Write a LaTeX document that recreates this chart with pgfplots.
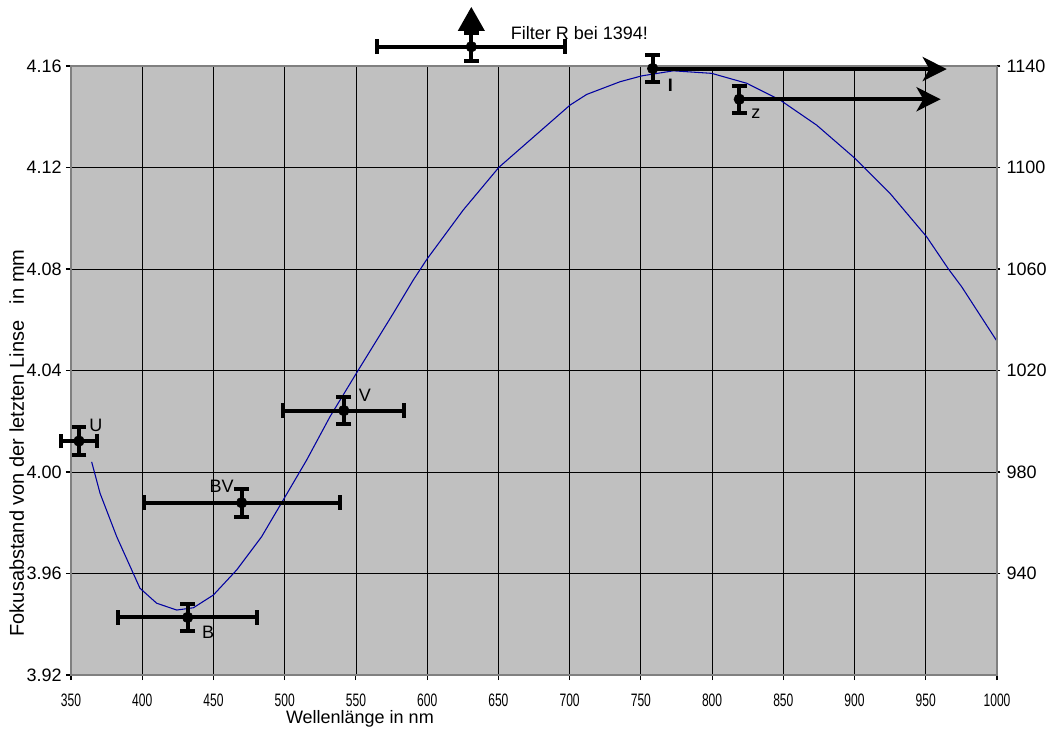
\documentclass[border=0pt]{standalone}
\usepackage{fontspec}
\setmainfont{Liberation Sans}
\usepackage{pgfplots}
\pgfplotsset{compat=1.18}
\usetikzlibrary{arrows.meta,calc}
\definecolor{bg}{RGB}{192,192,192}
\definecolor{brd}{RGB}{128,128,128}
\definecolor{curvec}{RGB}{0,0,160}
\newcommand{\xt}[1]{\scalebox{0.67}[1]{#1}}

\pgfplotstableread{
x y ex ey
355.6 4.0122 12.3 0.0055
431.9 3.9427 48.9 0.0054
469.8 3.9879 68.7 0.0055
541.5 4.0242 42.5 0.0053
631.0 4.1676 66.0 0.0055
}\ptsA

\pgfplotstableread{
x y ey
758.3 4.1590 0.0054
819.1 4.1469 0.0053
}\ptsB

\pgfplotstableread{
x y
364.5 4.0040
370.4 3.9916
382.1 3.9745
398.4 3.9542
410.1 3.9483
424.2 3.9456
435.9 3.9465
449.9 3.9515
466.3 3.9614
483.8 3.9745
499.0 3.9890
515.4 4.0047
531.8 4.0218
551.7 4.0402
576.2 4.0625
590.3 4.0757
600.0 4.0840
625.4 4.1033
650.4 4.1201
672.2 4.1308
700.3 4.1446
712.0 4.1488
735.4 4.1538
750.6 4.1561
772.8 4.1581
799.7 4.1571
824.3 4.1532
847.7 4.1466
873.4 4.1367
900.3 4.1236
924.9 4.1098
950.6 4.0927
965.9 4.0800
975.2 4.0730
1000.0 4.0515
}\curve

\begin{document}
\fontsize{13.5}{16}\selectfont
\begin{tikzpicture}
\begin{axis}[name=ax, scale only axis, width=694.5pt, height=456.75pt,
  xmin=350, xmax=1000, ymin=3.92, ymax=4.16,
  xtick={350,400,450,500,550,600,650,700,750,800,850,900,950,1000},
  xticklabels={\xt{350},\xt{400},\xt{450},\xt{500},\xt{550},\xt{600},\xt{650},\xt{700},\xt{750},\xt{800},\xt{850},\xt{900},\xt{950},\xt{1000}},
  ytick={3.92,3.96,4.00,4.04,4.08,4.12,4.16},
  yticklabel style={/pgf/number format/fixed, /pgf/number format/fixed zerofill, /pgf/number format/precision=2, /pgf/number format/assume math mode=true, xshift=1.5pt},
  xticklabel style={yshift=-6pt},
  tick pos=left, tick align=outside, major tick length=3.75pt,
  tick style={black, line width=0.8pt},
  grid=major, major grid style={black, line width=0.6pt},
  axis line style={brd, line width=1.5pt},
  axis background/.style={fill=bg},
  clip=false,
  font=\fontsize{13.5}{16}\selectfont,
]
\addplot[curvec, line width=0.8pt, no marks] table[x=x,y=y] {\curve};

\addplot[black, only marks, mark=*, mark size=4pt,
  error bars/.cd, x dir=both, x explicit, y dir=both, y explicit,
  error bar style={line width=3pt, black},
  error mark options={rotate=90, line width=3pt, mark size=5.5pt, black}]
  table[x=x, y=y, x error=ex, y error=ey] {\ptsA};

\addplot[black, only marks, mark=*, mark size=4pt,
  error bars/.cd, y dir=both, y explicit,
  error bar style={line width=3pt, black},
  error mark options={rotate=90, line width=3pt, mark size=5.5pt, black}]
  table[x=x, y=y, y error=ey] {\ptsB};

\addplot[black, line width=3pt, -{Stealth[length=18pt,width=18pt,inset=5pt]}] coordinates {(758.3,4.1588) (964.7,4.1588)};
\addplot[black, line width=3pt, -{Stealth[length=18pt,width=18pt,inset=5pt]}] coordinates {(819.1,4.1469) (960.4,4.1469)};
\addplot[black, line width=3pt, -{Triangle[length=18pt,width=19.5pt]}] coordinates {(631,4.1676) (631,4.1833)};

\node at (axis cs:367.5,4.0185) {U};
\node at (axis cs:455.7,3.9945) {BV};
\node at (axis cs:446.2,3.9368) {B};
\node at (axis cs:556.2,4.0303) {V};
\node at (axis cs:830.7,4.1413) {z};
\node at (axis cs:770.8,4.1525) {\textbf{I}};
\node[anchor=west, inner sep=0pt] at (axis cs:658.6,4.1730) {Filter R bei 1394!};

\node[rotate=90, font=\fontsize{15}{18}\selectfont] at (axis description cs:-0.0585,0.381) {Fokusabstand von der letzten Linse\ \ \ in mm};
\node at (axis description cs:0.312,-0.072) {Wellenlänge in nm};
\end{axis}
\begin{axis}[scale only axis, width=694.5pt, height=456.75pt,
  xmin=350, xmax=1000, ymin=900, ymax=1140,
  axis x line=none, axis y line*=right,
  ytick={940,980,1020,1060,1100,1140},
  yticklabel style={/pgf/number format/assume math mode=true, /pgf/number format/1000 sep={}},
  tick align=outside, major tick length=2.5pt,
  tick style={black, line width=0.8pt},
  axis line style={brd, line width=1.5pt},
  font=\fontsize{13.5}{16}\selectfont,
]
\node[rotate=90, font=\fontsize{15}{18}\selectfont] at (axis description cs:1.058,0.5) {Fokuseinstellung von MOSCA};
\end{axis}
\pgfresetboundingbox
\path[use as bounding box] ($(ax.south west)+(-53.25pt,-39.75pt)$) rectangle ($(ax.north east)+(49.5pt,49.5pt)$);
\end{tikzpicture}
\end{document}
